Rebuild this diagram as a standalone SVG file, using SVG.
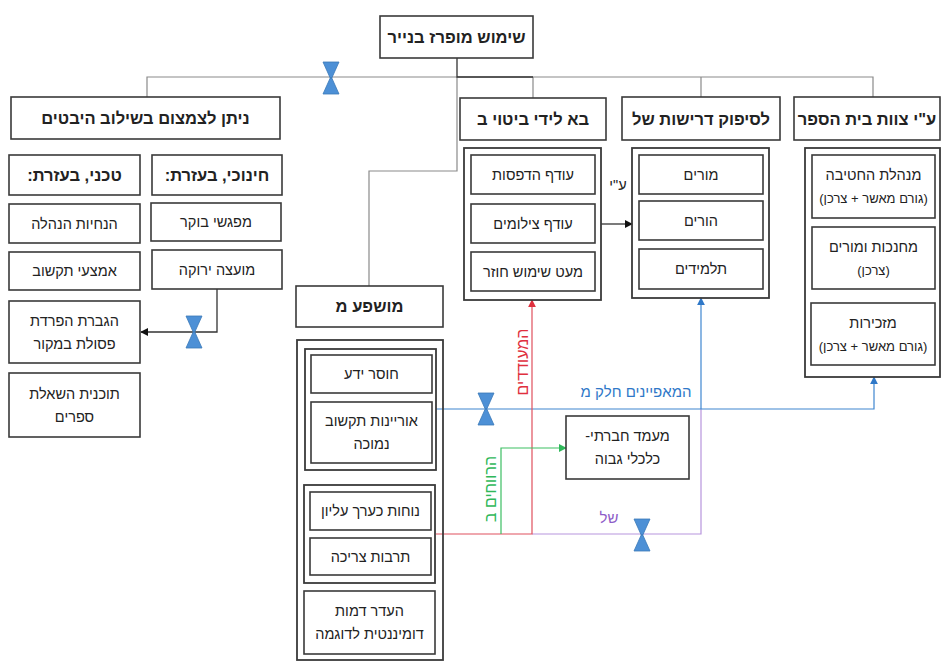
<svg xmlns="http://www.w3.org/2000/svg" width="944" height="662" viewBox="0 0 944 662">
  <style>
    .box { fill: #ffffff; stroke: #3a3a3a; stroke-width: 1.6; }
    .frame { fill: none; stroke: #3a3a3a; stroke-width: 1.8; }
    text { font-family: "Liberation Sans", "DejaVu Sans", "Noto Sans", sans-serif; fill: #222; text-anchor: middle; direction: rtl; }
    .h { font-size: 16.5px; font-weight: bold; }
    .t { font-size: 14.5px; }
    .s { font-size: 13px; }
    .lbl { font-size: 15px; }
    .gray { fill: none; stroke: #8a8a8a; stroke-width: 1.2; }
    .dark { fill: none; stroke: #333; stroke-width: 1.3; }
    .red { fill: none; stroke: #e0505e; stroke-width: 1.2; }
    .blue { fill: none; stroke: #3f86d0; stroke-width: 1.2; }
    .green { fill: none; stroke: #3cbf63; stroke-width: 1.2; }
    .purple { fill: none; stroke: #b795dd; stroke-width: 1.2; }
    .tie { fill: #4d90d6; stroke: #3a78b8; stroke-width: 0.8; }
  </style>
  <defs>
    <marker id="aBlack" viewBox="0 0 10 10" refX="9" refY="5" markerWidth="8" markerHeight="8" markerUnits="userSpaceOnUse" orient="auto">
      <path d="M0,0 L10,5 L0,10 z" fill="#111"/>
    </marker>
    <marker id="aRed" viewBox="0 0 10 10" refX="9" refY="5" markerWidth="8" markerHeight="8" markerUnits="userSpaceOnUse" orient="auto">
      <path d="M0,0 L10,5 L0,10 z" fill="#e0303e"/>
    </marker>
    <marker id="aBlue" viewBox="0 0 10 10" refX="9" refY="5" markerWidth="8" markerHeight="8" markerUnits="userSpaceOnUse" orient="auto">
      <path d="M0,0 L10,5 L0,10 z" fill="#2f78c8"/>
    </marker>
    <marker id="aGreen" viewBox="0 0 10 10" refX="9" refY="5" markerWidth="8" markerHeight="8" markerUnits="userSpaceOnUse" orient="auto">
      <path d="M0,0 L10,5 L0,10 z" fill="#2fb85a"/>
    </marker>
    <g id="bowtie">
      <path class="tie" d="M-8,-16 L8,-16 L0.8,0 L-0.8,0 z"/>
      <path class="tie" d="M-0.8,0 L0.8,0 L8,16 L-8,16 z"/>
    </g>
  </defs>

  <!-- connectors -->
  <g id="connectors">
    <path class="gray" d="M147,97 V77 H873 V97 M533,77 V98 M701,77 V97"/>
    <path class="gray" d="M457,77 V171 H369 V286"/>
    <path class="dark" d="M457,58 V77 H533"/>
    <path class="dark" d="M217,289 V332 H141" marker-end="url(#aBlack)"/>
    <path class="dark" d="M601,224 H632" marker-end="url(#aBlack)"/>
    <path class="purple" d="M532,534 H701 V409"/>
    <path class="blue" d="M436,409 H874 V377" marker-end="url(#aBlue)"/>
    <path class="blue" d="M701,409 V298" marker-end="url(#aBlue)"/>
    <path class="red" d="M436,534 H532 V300" marker-end="url(#aRed)"/>
    <path class="green" d="M501,534 V448 H566" marker-end="url(#aGreen)"/>
    <use href="#bowtie" x="331" y="78"/>
    <use href="#bowtie" x="194" y="332"/>
    <use href="#bowtie" x="486" y="409"/>
    <use href="#bowtie" x="642" y="535"/>
    <text class="t" x="618" y="190">ע"י</text>
    <text class="lbl" x="636" y="397" style="fill:#2f78c8">המאפיינים חלק מ</text>
    <text class="lbl" x="522" y="362" dominant-baseline="central" transform="rotate(-90 522 362)" style="fill:#e0303e;font-size:16px">המעודדים</text>
    <text class="lbl" x="490" y="489" dominant-baseline="central" transform="rotate(-90 490 489)" style="fill:#2fb85a;font-size:16px">הרווחים ב</text>
    <text class="lbl" x="609" y="523" style="fill:#8e5cc8">של</text>
  </g>

  <!-- root -->
  <g id="root">
    <rect class="box" x="380" y="16" width="153" height="42"/>
    <text class="h" x="456.5" y="43">שימוש מופרז בנייר</text>
  </g>

  <!-- reduction branch -->
  <g id="reduce">
    <rect class="box" x="11" y="97" width="269" height="42"/>
    <text class="h" x="145.5" y="124">ניתן לצמצום בשילוב היבטים</text>
  </g>
  <g id="tech">
    <rect class="box" x="9" y="155" width="131" height="40"/>
    <text class="h" x="74.5" y="181">טכני, בעזרת:</text>
  </g>
  <g id="edu">
    <rect class="box" x="152" y="155" width="130" height="40"/>
    <text class="h" x="217" y="181">חינוכי, בעזרת:</text>
  </g>
  <g id="mgmt">
    <rect class="box" x="9" y="204" width="131" height="39"/>
    <text class="t" x="74.5" y="228.5">הנחיות הנהלה</text>
  </g>
  <g id="morning">
    <rect class="box" x="151" y="203" width="130" height="38"/>
    <text class="t" x="216" y="227">מפגשי בוקר</text>
  </g>
  <g id="ict">
    <rect class="box" x="9" y="252" width="131" height="38"/>
    <text class="t" x="74.5" y="276">אמצעי תקשוב</text>
  </g>
  <g id="council">
    <rect class="box" x="152" y="250" width="130" height="39"/>
    <text class="t" x="217" y="274.5">מועצה ירוקה</text>
  </g>
  <g id="recycle">
    <rect class="box" x="9" y="301" width="131" height="62"/>
    <text class="t" x="74.5" y="325.5">הגברת הפרדת</text>
    <text class="t" x="74.5" y="348.5">פסולת במקור</text>
  </g>
  <g id="books">
    <rect class="box" x="9" y="373" width="131" height="64"/>
    <text class="t" x="74.5" y="398.5">תוכנית השאלת</text>
    <text class="t" x="74.5" y="421.5">ספרים</text>
  </g>

  <!-- expression branch -->
  <g id="express">
    <rect class="box" x="460" y="98" width="146" height="42"/>
    <text class="h" x="533" y="125">בא לידי ביטוי ב</text>
  </g>
  <g id="express-list">
    <rect class="frame" x="464" y="148" width="137" height="152"/>
    <rect class="box" x="471" y="155" width="124" height="39"/>
    <text class="t" x="533" y="179.5">עודף הדפסות</text>
    <rect class="box" x="471" y="204" width="124" height="39"/>
    <text class="t" x="533" y="228.5">עודף צילומים</text>
    <rect class="box" x="471" y="252" width="124" height="39"/>
    <text class="t" x="533" y="276.5">מעט שימוש חוזר</text>
  </g>

  <!-- demand branch -->
  <g id="demand">
    <rect class="box" x="622" y="97" width="158" height="43"/>
    <text class="h" x="701" y="124.5">לסיפוק דרישות של</text>
  </g>
  <g id="demand-list">
    <rect class="frame" x="632" y="148" width="137" height="150"/>
    <rect class="box" x="639" y="155" width="124" height="39"/>
    <text class="t" x="701" y="179.5">מורים</text>
    <rect class="box" x="639" y="201" width="124" height="39"/>
    <text class="t" x="701" y="225.5">הורים</text>
    <rect class="box" x="639" y="249" width="124" height="40"/>
    <text class="t" x="701" y="274">תלמידים</text>
  </g>

  <!-- staff branch -->
  <g id="staff">
    <rect class="box" x="794" y="97" width="146" height="43"/>
    <text class="h" x="867" y="124.5">ע"י צוות בית הספר</text>
  </g>
  <g id="staff-list">
    <rect class="frame" x="805" y="148" width="135" height="229"/>
    <rect class="box" x="812" y="155" width="123" height="63"/>
    <text class="t" x="873.5" y="180">מנהלת החטיבה</text>
    <text class="s" x="873.5" y="203">(גורם מאשר + צרכן)</text>
    <rect class="box" x="812" y="227" width="123" height="62"/>
    <text class="t" x="873.5" y="251.5">מחנכות ומורים</text>
    <text class="s" x="873.5" y="274.5">(צרכן)</text>
    <rect class="box" x="811" y="303" width="124" height="62"/>
    <text class="t" x="873" y="327.5">מזכירות</text>
    <text class="s" x="873" y="350.5">(גורם מאשר + צרכן)</text>
  </g>

  <!-- influence branch -->
  <g id="influence">
    <rect class="box" x="296" y="286" width="147" height="41"/>
    <text class="h" x="369.5" y="312">מושפע מ</text>
  </g>
  <g id="influence-list">
    <rect class="frame" x="297" y="340" width="146" height="320"/>
    <rect class="frame" x="305" y="349" width="131" height="121"/>
    <rect class="box" x="311" y="355" width="121" height="38"/>
    <text class="t" x="371.5" y="379">חוסר ידע</text>
    <rect class="box" x="311" y="402" width="121" height="61"/>
    <text class="t" x="371.5" y="426">אוריינות תקשוב</text>
    <text class="t" x="371.5" y="449">נמוכה</text>
    <rect class="frame" x="304" y="485" width="131" height="98"/>
    <rect class="box" x="310" y="492" width="121" height="38"/>
    <text class="t" x="370.5" y="516">נוחות כערך עליון</text>
    <rect class="box" x="310" y="538" width="121" height="37"/>
    <text class="t" x="370.5" y="561.5">תרבות צריכה</text>
    <rect class="box" x="304" y="591" width="131" height="63"/>
    <text class="t" x="369.5" y="616">העדר דמות</text>
    <text class="t" x="369.5" y="639">דומיננטית לדוגמה</text>
  </g>

  <g id="status">
    <rect class="box" x="566" y="416" width="123" height="63"/>
    <text class="t" x="627.5" y="441">מעמד חברתי-</text>
    <text class="t" x="627.5" y="464">כלכלי גבוה</text>
  </g>
</svg>
